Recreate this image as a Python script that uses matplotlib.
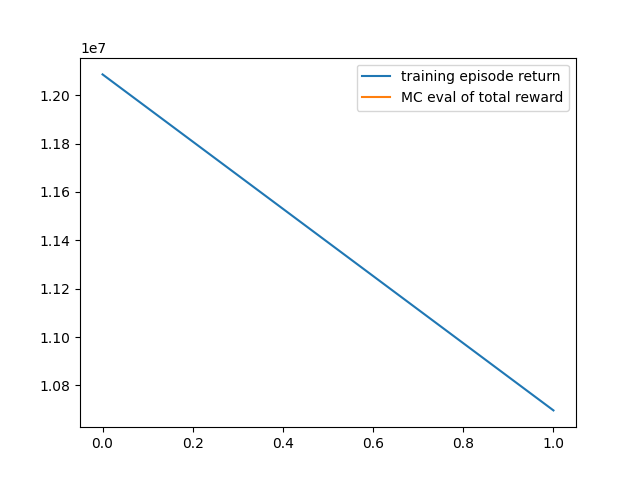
import matplotlib
matplotlib.use("Agg")
import matplotlib.pyplot as plt

episodes = [0, 1]
training_return = [1.2086e7, 1.0697e7]
mc_eval_x = []
mc_eval = []

fig, ax = plt.subplots(figsize=(6.4, 4.8), dpi=100)
ax.plot(episodes, training_return, label="training episode return")
ax.plot(mc_eval_x, mc_eval, label="MC eval of total reward")
ax.legend()
fig.savefig("out.png")
